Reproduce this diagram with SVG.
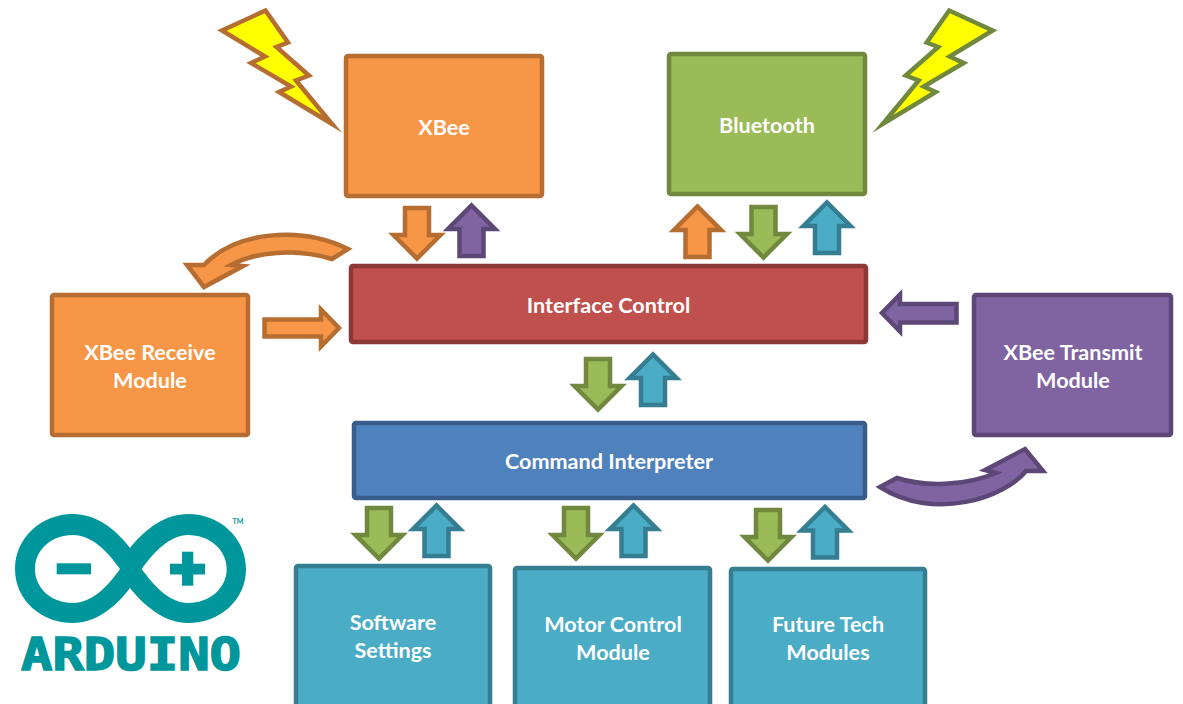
<svg xmlns="http://www.w3.org/2000/svg" xmlns:xlink="http://www.w3.org/1999/xlink" width="1183" height="704" viewBox="0 0 1183 704">
<style>
text{font-family:"Lato","Liberation Sans",sans-serif;font-weight:700;font-size:21.6px;fill:#fff;text-anchor:middle}
.s{stroke-width:4.5;stroke-linejoin:miter;stroke-miterlimit:10}
.o{fill:#F79646;stroke:#B66D31}
.g{fill:#9BBB59;stroke:#71893F}
.b{fill:#4BACC6;stroke:#357D91}
.p{fill:#8064A2;stroke:#5C4776}
.r{fill:#C0504D;stroke:#8C3836}
.d{fill:#4F81BD;stroke:#385D8A}
.yo{fill:#FF0;stroke:#B66D31}
.yg{fill:#FF0;stroke:#71893F}
.t{fill:#00979C}
</style>
<defs>
<path id="ad" d="M-12,0H12V27H23.500L0,50.500L-23.500,27H-12Z"/>
</defs>
<rect width="1183" height="704" fill="#fff"/>
<g id="xbee"><rect class="s o" x="346" y="56" width="196" height="140" rx="2"/><text x="444" y="134.500">XBee</text></g>
<g id="bluetooth"><rect class="s g" x="669" y="54" width="196" height="140" rx="2"/><text x="767" y="133">Bluetooth</text></g>
<g id="interface-control"><rect class="s r" x="351" y="266" width="515" height="76" rx="2"/><text x="608.500" y="312.500">Interface Control</text></g>
<g id="command-interpreter"><rect class="s d" x="354" y="423" width="511" height="75" rx="2"/><text x="609" y="468.500">Command Interpreter</text></g>
<g id="xbee-receive"><rect class="s o" x="52" y="295" width="196" height="140" rx="2"/><text x="150" y="359.500">XBee Receive</text><text x="150" y="387.500">Module</text></g>
<g id="xbee-transmit"><rect class="s p" x="974" y="295" width="197" height="140" rx="2"/><text x="1073" y="359.500">XBee Transmit</text><text x="1073" y="387.500">Module</text></g>
<g id="software-settings"><rect class="s b" x="296" y="566" width="194" height="150" rx="2"/><text x="393" y="630">Software</text><text x="393" y="658">Settings</text></g>
<g id="motor-control"><rect class="s b" x="515" y="568" width="195" height="150" rx="2"/><text x="613" y="632">Motor Control</text><text x="613" y="659.500">Module</text></g>
<g id="future-tech"><rect class="s b" x="731" y="569" width="194" height="150" rx="2"/><text x="828" y="632">Future Tech</text><text x="828" y="660">Modules</text></g>
<g id="bolt-left"><path class="s yo" d="M222,30.500L265.500,10.500L288,42.500L276.500,47L309,75.500L296,80.500L332,124L279,92L291,86.500L251,63L265,56.500Z"/></g>
<g id="bolt-right"><path class="s yg" d="M992.700,30.500L949.200,10.500L926.700,42.500L938.200,47L905.700,75.500L918.700,80.500L882.700,124L935.700,92L923.700,86.500L963.700,63L949.700,56.500Z"/></g>
<g id="connectors">
<use href="#ad" class="s o" transform="translate(417,208)"/>
<use href="#ad" class="s p" transform="translate(471.500,256) scale(1,-1)"/>
<use href="#ad" class="s o" transform="translate(697.500,257) scale(1,-1)"/>
<use href="#ad" class="s g" transform="translate(763.500,207)"/>
<use href="#ad" class="s b" transform="translate(827,253) scale(1,-1)"/>
<use href="#ad" class="s g" transform="translate(598,359)"/>
<use href="#ad" class="s b" transform="translate(653,405) scale(1,-1)"/>
<use href="#ad" class="s g" transform="translate(379,508)"/>
<use href="#ad" class="s b" transform="translate(436.500,556) scale(1,-1)"/>
<use href="#ad" class="s g" transform="translate(576,508)"/>
<use href="#ad" class="s b" transform="translate(633.500,556) scale(1,-1)"/>
<use href="#ad" class="s g" transform="translate(768,510)"/>
<use href="#ad" class="s b" transform="translate(825,557.500) scale(1,-1)"/>
<path class="s o" d="M264.500,319.500H321V309.500L339,328L321,346.500V336.500H264.500Z"/>
<path class="s p" d="M956.500,304H900V294.500L882,313L900,331.500V322.500H956.500Z"/>
<path class="s o" d="M348,249C300,225 235,232 204,265H187L204,287L243,266L231,265C255,252 295,248 332,259Z"/>
<path class="s p" d="M880,487L897,478C925,487 965,486 996,473L985,470L1025,449L1043,471H1026C1005,497 935,522 880,487Z"/>
</g>
<g id="arduino-logo">
<path class="t" fill-rule="evenodd" d="M130,548C115,528 95,514 73,514C41,514 15,538 15,569C15,600 41,623 73,623C95,623 115,608 130,588C146,608 166,623 188,623C220,623 246,600 246,569C246,538 220,514 188,514C166,514 146,528 130,548ZM35,569C35,550 51,535 73,535C92,535 108,552 120,569C108,586 92,603 73,603C51,603 35,588 35,569ZM141.700,569C154,552 170,535 188,535C210,535 226.700,550 226.700,569C226.700,588 210,603 188,603C170,603 154,586 141.700,569Z"/>
<rect class="t" x="56.700" y="563.300" width="34.300" height="11"/>
<rect class="t" x="170" y="563.700" width="35" height="10.800"/>
<rect class="t" x="182" y="551.700" width="11.300" height="34"/>
<text class="t" x="238" y="523.500" style="font-size:7px;fill:#00979C">TM</text>
<text x="131" y="670" textLength="220" lengthAdjust="spacingAndGlyphs" style="font-family:'DejaVu Sans Mono',monospace;font-size:44px;fill:#00979C;stroke:#00979C;stroke-width:1.500">ARDUINO</text>
</g>
</svg>
